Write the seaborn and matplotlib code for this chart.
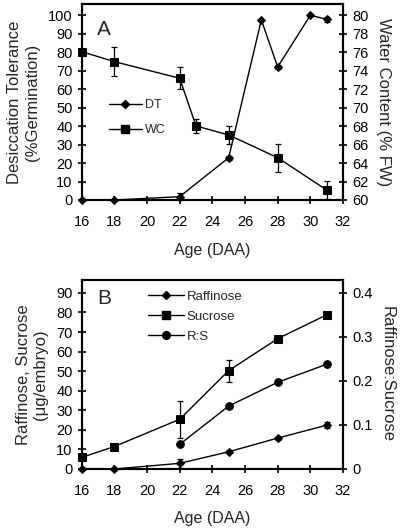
import numpy as np
import pandas as pd
import seaborn as sns
import matplotlib
matplotlib.use("Agg")
import matplotlib.pyplot as plt
from matplotlib.lines import Line2D

# ---------------- Data ----------------
# Panel A
dt_age = [16, 18, 22, 25, 27, 28, 30, 31]
dt_val = [0, 0, 1.8, 22.9, 97.5, 72, 100, 97.8]
dt_err = [0, 0, 2, 1, 0, 1, 0, 1.5]

wc_age = [16, 18, 22, 23, 25, 28, 31]
wc_val = [76.06, 74.98, 73.18, 68.02, 67.04, 64.58, 61.08]
wc_err = [0, 1.6, 1.2, 0.8, 1.0, 1.5, 0.95]

# Panel B
raf_age = [16, 18, 22, 25, 28, 31]
raf_val = [0, 0, 2.9, 8.8, 15.8, 22.4]
raf_err = [0, 0, 2.2, 0.8, 0.8, 1.4]

suc_age = [16, 18, 22, 25, 28, 31]
suc_val = [5.9, 11.5, 25.4, 50.3, 66.6, 78.8]
suc_err = [0, 0, 9.3, 5.6, 0.8, 1.5]

rs_age = [22, 25, 28, 31]
rs_val = [0.056, 0.143, 0.197, 0.238]

x_ticks = [16, 18, 20, 22, 24, 26, 28, 30, 32]

# ---------------- Style ----------------
sns.set_style("ticks")
plt.rcParams['font.family'] = ['Liberation Sans', 'DejaVu Sans']

fig = plt.figure(figsize=(4.0, 5.31), dpi=100)
W, H = 400, 531

def axes_px(l, t, r, b):
    return fig.add_axes([l / W, 1 - b / H, (r - l) / W, (b - t) / H])

axA = axes_px(81.7, 4, 343, 200)
axB = axes_px(81.7, 280, 343, 469)

lw_sp = 1.5
tick_kw = dict(direction='inout', length=6, width=1.2, labelsize=10.5, colors='black')

SQ, DI, CI = 6, 4.5, 5.5

def style(ax):
    for s in ax.spines.values():
        s.set_visible(True)
        s.set_linewidth(lw_sp)
        s.set_color('black')
    ax.tick_params(**tick_kw)
    ax.tick_params(axis='x', pad=8)

def series(ax, x, y, err, marker, ms):
    df = pd.DataFrame({'x': x, 'y': y})
    sns.lineplot(data=df, x='x', y='y', ax=ax, color='black', lw=1.0,
                 marker=marker, markersize=ms, markeredgecolor='black',
                 markerfacecolor='black', clip_on=False, legend=False)
    if err is not None:
        ax.errorbar(x, y, yerr=err, fmt='none', ecolor='black', elinewidth=0.9,
                    capsize=2.5, capthick=0.9, clip_on=False)

# ---------------- Panel A ----------------
axA2 = axA.twinx()
series(axA, dt_age, dt_val, dt_err, 'D', DI)
series(axA2, wc_age, wc_val, wc_err, 's', SQ)
axA.set_xlim(16, 32)
axA.set_ylim(0, 106.1)
axA2.set_ylim(60, 60 + 106.1 * 0.2)
axA.set_xticks(x_ticks)
axA.set_yticks(range(0, 101, 10))
axA2.set_yticks(range(60, 81, 2))
for a in (axA, axA2):
    style(a)
    a.set_xlabel('')
    a.set_ylabel('')
axA.set_xlabel('Age (DAA)', fontsize=11.5, labelpad=10)
axA.set_ylabel('Desiccation Tolerance\n(%Germination)', fontsize=12, labelpad=6)
axA2.set_ylabel('Water Content (% FW)', fontsize=12, rotation=270, labelpad=16)
axA.text(0.06, 0.92, 'A', transform=axA.transAxes, fontsize=15, va='top', ha='left')

hA = [Line2D([], [], color='black', lw=1.0, marker='D', markersize=DI),
      Line2D([], [], color='black', lw=1.0, marker='s', markersize=SQ)]
axA.legend(hA, ['DT', 'WC'], loc='upper left', bbox_to_anchor=(0.105, 0.515),
           frameon=False, fontsize=9, handlelength=2.6, handletextpad=0.3,
           labelspacing=1.05, borderpad=0, borderaxespad=0)

# ---------------- Panel B ----------------
axB2 = axB.twinx()
series(axB, raf_age, raf_val, raf_err, 'D', DI)
series(axB, suc_age, suc_val, suc_err, 's', SQ)
series(axB2, rs_age, rs_val, None, 'o', CI)
axB.set_xlim(16, 32)
axB.set_ylim(0, 96.6)
axB2.set_ylim(0, 96.6 * 0.4 / 90)
axB.set_xticks(x_ticks)
axB.set_yticks(range(0, 91, 10))
axB2.set_yticks([0, 0.1, 0.2, 0.3, 0.4])
axB2.set_yticklabels(['0', '0.1', '0.2', '0.3', '0.4'])
for a in (axB, axB2):
    style(a)
    a.set_xlabel('')
    a.set_ylabel('')
axB.set_xlabel('Age (DAA)', fontsize=11.5, labelpad=9)
axB.set_ylabel('Raffinose, Sucrose\n(\u03bcg/embryo)', fontsize=12, labelpad=6)
axB2.set_ylabel('Raffinose:Sucrose', fontsize=12, rotation=270, labelpad=16)
axB.text(0.06, 0.95, 'B', transform=axB.transAxes, fontsize=15, va='top', ha='left')

hB = [Line2D([], [], color='black', lw=1.0, marker='D', markersize=DI),
      Line2D([], [], color='black', lw=1.0, marker='s', markersize=SQ),
      Line2D([], [], color='black', lw=1.0, marker='o', markersize=CI)]
axB.legend(hB, ['Raffinose', 'Sucrose', 'R:S'], loc='upper left',
           bbox_to_anchor=(0.255, 0.945), frameon=False, fontsize=9.5,
           handlelength=2.7, handletextpad=0.2, labelspacing=0.6,
           borderpad=0, borderaxespad=0)

fig.savefig('out.png', dpi=100)
